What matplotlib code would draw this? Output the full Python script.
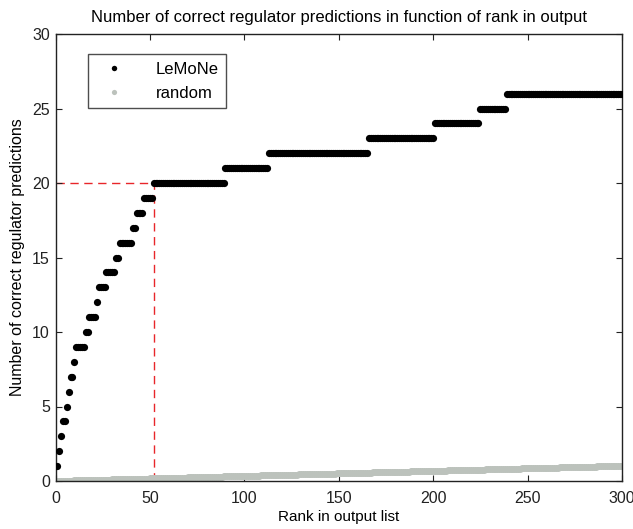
import numpy as np
import matplotlib
matplotlib.use("Agg")
import matplotlib.pyplot as plt

# Ranks (in output list) at which a correct LeMoNe regulator prediction occurs
lemone_hit_ranks = [1, 2, 3, 4, 6, 7, 8, 10, 11, 16, 18, 22, 23, 27, 32, 34,
                    41, 43, 47, 52, 90, 113, 166, 201, 225, 239]
# Expected number of correct predictions per rank for a random ranking
random_rate = 0.00340
n_ranks = 300
cutoff_rank = 52
cutoff_count = 20

title = "Number of correct regulator predictions in function of rank in output"
xlabel = "Rank in output list"
ylabel = "Number of correct regulator predictions"
xticks = [0, 50, 100, 150, 200, 250, 300]
yticks = [0, 5, 10, 15, 20, 25, 30]

ranks = np.arange(1, n_ranks + 1)
lemone = np.searchsorted(np.array(lemone_hit_ranks), ranks, side="right")
random_vals = ranks * random_rate

plt.rcParams['font.family'] = ['Liberation Sans', 'DejaVu Sans']

fig = plt.figure(figsize=(6.33, 5.29), dpi=100)
ax = fig.add_axes([55.5 / 633, 1 - 481 / 529, (622 - 55.5) / 633, (481 - 34) / 529])

ax.plot(ranks, random_vals, linestyle='none', marker='o', markersize=5.0,
        color='#bcc2bc', markeredgewidth=0, label='random', zorder=2)
ax.plot(ranks, lemone, linestyle='none', marker='o', markersize=5.2,
        color='black', markeredgewidth=0, label='LeMoNe', zorder=3)

ax.plot([0, cutoff_rank], [cutoff_count, cutoff_count], color='#e8262a',
        linestyle=(0, (6, 4)), linewidth=1.0, zorder=1)
ax.plot([cutoff_rank, cutoff_rank], [0, cutoff_count], color='#e8262a',
        linestyle=(0, (6, 4)), linewidth=1.0, zorder=1)

ax.set_xlim(0, 300)
ax.set_ylim(0, 30)
ax.set_xticks(xticks)
ax.set_yticks(yticks)
ax.tick_params(direction='in', length=4, top=True, right=True, labelsize=11.5,
               width=0.8, pad=4, colors='#222222')
ax.tick_params(axis='x', pad=7)
for s in ax.spines.values():
    s.set_linewidth(1.0)
    s.set_color('#222222')

ax.set_title(title, fontsize=12, pad=9)
ax.set_xlabel(xlabel, fontsize=11, labelpad=3)
ax.set_ylabel(ylabel, fontsize=11.5, labelpad=5)

handles, labels = ax.get_legend_handles_labels()
order = [1, 0]
leg = ax.legend([handles[i] for i in order], [labels[i] for i in order],
                loc='upper left', bbox_to_anchor=((88 - 55.5) / 566.5, 1 - (54 - 34) / 447),
                fontsize=12, frameon=True, fancybox=False, edgecolor='#222222',
                markerscale=0.75, handlelength=2.2, handletextpad=1.4,
                borderpad=0.45, labelspacing=0.55, borderaxespad=0)
leg.get_frame().set_linewidth(1.0)

fig.savefig("out.png", dpi=100)
